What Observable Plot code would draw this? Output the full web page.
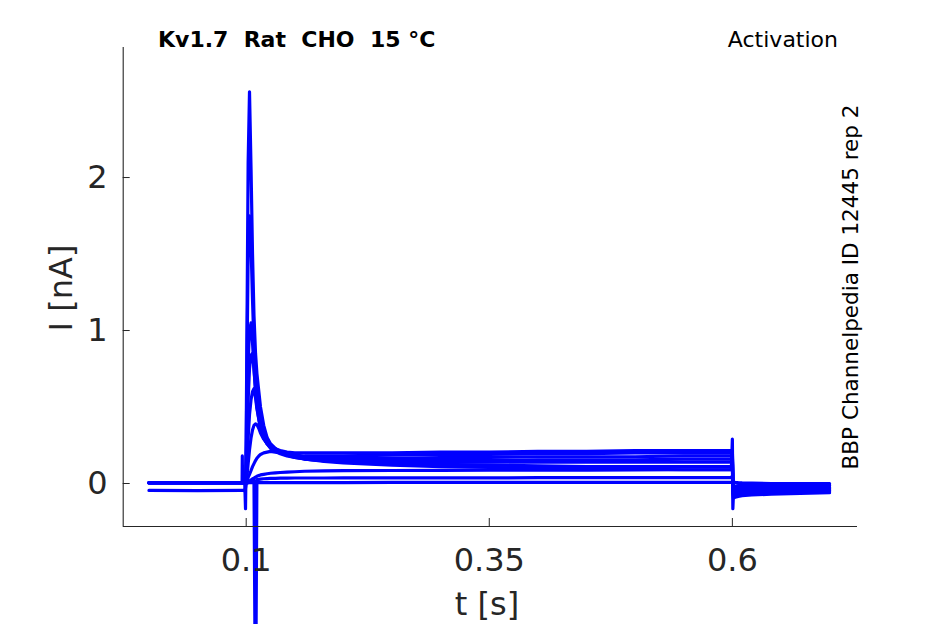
<!DOCTYPE html>
<html>
<head>
<meta charset="utf-8">
<script src="https://cdn.jsdelivr.net/npm/d3@7"></script>
<script src="https://cdn.jsdelivr.net/npm/@observablehq/plot@0.6"></script>
<style>
  html, body { margin: 0; padding: 0; background: #fff; overflow: hidden; }
  svg { display: block; }
  text { white-space: pre; }
</style>
</head>
<body>
<div id="chart"></div>
<script>
// Sample times (s)
const time = [0, 0.05, 0.0958, 0.096, 0.0962, 0.0985, 0.0993, 0.1, 0.101, 0.102,
  0.1034, 0.105, 0.1065, 0.108, 0.1096, 0.111, 0.113, 0.1147, 0.118, 0.1215,
  0.125, 0.13, 0.135, 0.142, 0.15, 0.16, 0.18, 0.2, 0.25, 0.3,
  0.35, 0.4, 0.45, 0.5, 0.55, 0.599, 0.6, 0.6005, 0.601, 0.603,
  0.606, 0.61, 0.62, 0.64, 0.67, 0.7];

// Current traces (nA), one per voltage step
const traceA = [0.005, 0.004, 0.005, 0.18, 0.005, 0.005, 0.0, 0.3, 1.2, 2.1,
  2.56, 2.05, 1.5, 1.1, 0.85, 0.72, 0.6, 0.5, 0.38, 0.3,
  0.26, 0.23, 0.21, 0.19, 0.175, 0.16, 0.145, 0.135, 0.12, 0.11,
  0.105, 0.1, 0.095, 0.095, 0.09, 0.09, 0.29, -0.05, -0.095, -0.09,
  -0.085, -0.08, -0.075, -0.07, -0.065, -0.06];
const traceB = [0.006, 0.005, 0.006, 0.006, 0.006, 0.005, -0.165, 0.2, 0.9, 1.5,
  1.75, 1.55, 1.2, 0.9, 0.7, 0.58, 0.48, 0.41, 0.33, 0.27,
  0.24, 0.215, 0.2, 0.185, 0.17, 0.16, 0.15, 0.14, 0.13, 0.125,
  0.12, 0.115, 0.11, 0.11, 0.11, 0.11, 0.2, -0.165, -0.09, -0.08,
  -0.075, -0.07, -0.065, -0.06, -0.055, -0.05];
const traceC = [0.004, 0.005, 0.004, 0.004, 0.004, 0.005, 0.0, 0.1, 0.45, 0.8,
  1.0, 1.05, 0.92, 0.75, 0.6, 0.5, 0.42, 0.36, 0.3, 0.26,
  0.23, 0.21, 0.195, 0.18, 0.17, 0.16, 0.15, 0.145, 0.14, 0.14,
  0.14, 0.14, 0.14, 0.14, 0.14, 0.14, 0.15, 0.0, -0.08, -0.07,
  -0.065, -0.06, -0.055, -0.05, -0.047, -0.045];
const traceD = [0.005, 0.005, 0.005, 0.005, 0.005, 0.005, 0.0, 0.05, 0.3, 0.55,
  0.75, 0.84, 0.85, 0.75, 0.62, 0.53, 0.45, 0.39, 0.32, 0.27,
  0.24, 0.22, 0.205, 0.19, 0.18, 0.175, 0.17, 0.165, 0.165, 0.17,
  0.17, 0.175, 0.175, 0.175, 0.18, 0.18, 0.18, 0.01, -0.07, -0.06,
  -0.055, -0.05, -0.045, -0.042, -0.04, -0.04];
const traceE = [0.005, 0.006, 0.005, 0.005, 0.005, 0.005, 0.0, 0.03, 0.15, 0.3,
  0.45, 0.55, 0.6, 0.62, 0.56, 0.49, 0.42, 0.36, 0.3, 0.26,
  0.235, 0.215, 0.2, 0.19, 0.185, 0.18, 0.18, 0.18, 0.185, 0.19,
  0.19, 0.195, 0.195, 0.2, 0.2, 0.2, 0.2, 0.02, -0.06, -0.05,
  -0.045, -0.04, -0.038, -0.036, -0.035, -0.035];
const traceF = [0.004, 0.004, 0.004, 0.004, 0.004, 0.004, 0.0, 0.01, 0.06, 0.13,
  0.22, 0.3, 0.35, 0.38, 0.39, 0.385, 0.36, 0.33, 0.29, 0.26,
  0.24, 0.225, 0.215, 0.205, 0.2, 0.2, 0.2, 0.2, 0.2, 0.205,
  0.205, 0.21, 0.21, 0.215, 0.215, 0.215, 0.22, 0.03, -0.05, -0.04,
  -0.035, -0.033, -0.031, -0.03, -0.03, -0.03];
const traceG = [0.005, 0.005, 0.005, 0.005, 0.005, 0.005, 0.0, 0.005, 0.02, 0.04,
  0.06, 0.085, 0.11, 0.13, 0.15, 0.165, 0.18, 0.19, 0.2, 0.205,
  0.21, 0.205, 0.2, 0.19, 0.18, 0.17, 0.16, 0.155, 0.15, 0.15,
  0.15, 0.155, 0.155, 0.155, 0.16, 0.16, 0.16, 0.02, -0.04, -0.035,
  -0.03, -0.028, -0.026, -0.025, -0.025, -0.025];
const traceH = [0.005, 0.005, 0.005, 0.005, 0.005, 0.005, 0.0, 0.003, 0.008, 0.012,
  0.018, 0.024, 0.03, 0.036, 0.042, 0.047, 0.052, 0.056, 0.06, 0.064,
  0.067, 0.07, 0.072, 0.075, 0.077, 0.08, 0.082, 0.084, 0.085, 0.086,
  0.087, 0.088, 0.088, 0.089, 0.09, 0.09, 0.1, 0.01, -0.03, -0.025,
  -0.02, -0.018, -0.016, -0.015, -0.015, -0.015];
const traceI = [0.005, 0.005, 0.005, 0.005, 0.005, 0.005, 0.0, 0.002, 0.005, 0.008,
  0.011, 0.014, 0.017, 0.02, -1.6, 0.025, 0.027, 0.029, 0.031, 0.032,
  0.033, 0.034, 0.035, 0.035, 0.036, 0.036, 0.036, 0.037, 0.037, 0.037,
  0.037, 0.038, 0.038, 0.038, 0.038, 0.038, 0.05, 0.005, -0.02, -0.016,
  -0.013, -0.011, -0.01, -0.01, -0.01, -0.01];
const traceJ = [-0.045, -0.046, -0.045, -0.045, -0.045, -0.046, -0.03, 0.0, 0.003, 0.004,
  0.005, 0.005, 0.005, 0.005, 0.005, 0.006, 0.006, 0.006, 0.006, 0.006,
  0.006, 0.006, 0.006, 0.006, 0.006, 0.006, 0.006, 0.006, 0.007, 0.007,
  0.007, 0.007, 0.007, 0.007, 0.007, 0.007, 0.01, 0.015, 0.01, 0.008,
  0.006, 0.004, 0.002, 0.0, 0.0, 0.0];

const xTicks = [0.1, 0.35, 0.6];
const yTicks = [0, 1, 2];
const xDomain = [-0.0265, 0.7287];
const yDomain = [-0.281, 2.85];

const title = "Kv1.7  Rat  CHO  15 °C";
const protocol = "Activation";
const source = "BBP Channelpedia ID 12445 rep 2";
const xLabel = "t [s]";
const yLabel = "I [nA]";

const traces = {A: traceA, B: traceB, C: traceC, D: traceD, E: traceE,
  F: traceF, G: traceG, H: traceH, I: traceI, J: traceJ};
const data = [];
for (const [name, vals] of Object.entries(traces)) {
  vals.forEach((v, k) => data.push({trace: name, t: time[k], i: v}));
}

const ink = "#262626";
const W = 945, H = 624;
const mL = 122.7, mR = 88, mT = 47, mB = 98;
const plotW = W - mL - mR, plotH = H - mT - mB;

const svg = Plot.plot({
  width: W, height: H,
  marginLeft: mL, marginRight: mR, marginTop: mT, marginBottom: mB,
  style: {fontFamily: "DejaVu Sans", color: ink, background: "#fff", overflow: "visible"},
  x: {domain: xDomain},
  y: {domain: yDomain},
  marks: [
    Plot.line(data, {x: "t", y: "i", z: "trace", stroke: "#0000ff", strokeWidth: 3.2,
      strokeLinejoin: "round", strokeLinecap: "round"}),
    Plot.ruleX([xDomain[0]], {stroke: ink, strokeWidth: 1.1}),
    Plot.ruleY([yDomain[0]], {stroke: ink, strokeWidth: 1.1}),
    Plot.tickX(xTicks, {x: d => d, stroke: ink, insetTop: plotH - 8}),
    Plot.tickY(yTicks, {y: d => d, stroke: ink, insetRight: plotW - 7}),
    Plot.axisX({ticks: xTicks, tickSize: 0, tickPadding: 22, fontSize: 32, label: null,
      tickFormat: d => String(d)}),
    Plot.axisY({ticks: yTicks, tickSize: 0, tickPadding: 15.5, fontSize: 32, label: null,
      tickFormat: d => String(d)})
  ]
});

const s = d3.select(svg);
s.append("text").attr("x", 158).attr("y", 46.5).attr("font-size", 22).attr("font-weight", "bold")
  .attr("text-anchor", "start").attr("fill", "#000").attr("font-family", "DejaVu Sans").text(title);
s.append("text").attr("x", 838).attr("y", 46.5).attr("font-size", 22).attr("text-anchor", "end")
  .attr("fill", "#000").attr("font-family", "DejaVu Sans").text(protocol);
s.append("text").attr("transform", "translate(857.5,287) rotate(-90)").attr("font-size", 21.5)
  .attr("text-anchor", "middle").attr("fill", "#000").attr("font-family", "DejaVu Sans").text(source);
s.append("text").attr("x", 487).attr("y", 615).attr("font-size", 32).attr("text-anchor", "middle")
  .attr("fill", ink).attr("font-family", "DejaVu Sans").text(xLabel);
s.append("text").attr("transform", "translate(71.5,288) rotate(-90)").attr("font-size", 32)
  .attr("text-anchor", "middle").attr("fill", ink).attr("font-family", "DejaVu Sans").text(yLabel);

document.getElementById("chart").appendChild(svg);
</script>
</body>
</html>
